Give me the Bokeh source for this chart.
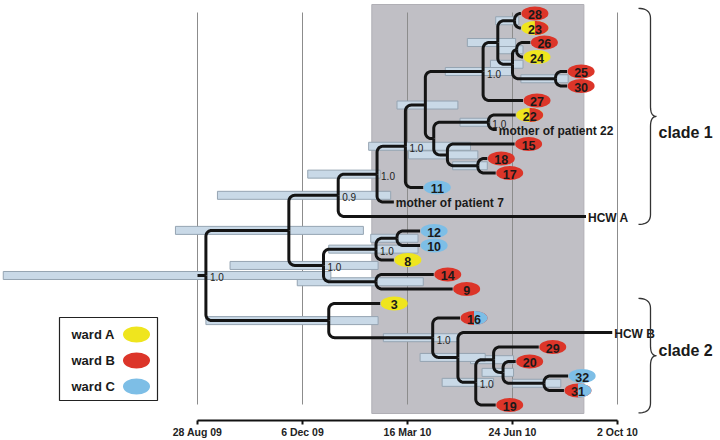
import numpy as np
from bokeh.plotting import figure
from bokeh.models import Range1d, FixedTicker
from bokeh.core.properties import value
from bokeh.embed import file_html
from bokeh.resources import INLINE

# ----------------------------- data -----------------------------
# x values are days after 28 Aug 2009
TICK_DAYS = [0, 100, 200, 300, 400]
TICK_LABELS = ["28 Aug 09", "6 Dec 09", "16 Mar 10", "24 Jun 10", "2 Oct 10"]

# tips, in their top-to-bottom order
TIP_NAMES = ["28", "23", "26", "24", "25", "30", "27", "22",
             "mother of patient 22", "15", "18", "17", "11",
             "mother of patient 7", "HCW A", "12", "10", "8", "14", "9",
             "3", "16", "HCW B", "29", "20", "32", "31", "19"]
TIP_DAYS = [308, 308, 317, 310, 352, 352, 310, 303,
            285, 302, 276, 284, 215,
            187, 370, 212, 212, 187, 225, 243,
            174, 250, 395, 325, 303, 353, 349, 284]
# ward of each patient: left half / right half of the oval ("" = no oval)
TIP_WARDS = ["B", "AB", "B", "A", "B", "B", "B", "AB",
             "", "B", "B", "B", "C",
             "", "", "C", "C", "A", "B", "B",
             "A", "BC", "", "B", "B", "C", "BC", "B"]

# internal nodes (children listed before parents)
NODE_NAMES = ["Z", "X", "Y", "W", "A", "B", "E", "V", "U", "D", "C", "T", "F",
              "P", "S", "Q", "R", "O", "N", "L", "K", "J", "I", "H", "G", "M",
              "root"]
NODE_CHILDREN = [["28", "23"], ["26", "24"], ["25", "30"], ["X", "Y"],
                 ["Z", "W"], ["A", "27"], ["22", "mother of patient 22"],
                 ["18", "17"], ["15", "V"], ["E", "U"], ["B", "D"],
                 ["C", "11"], ["T", "mother of patient 7"], ["F", "HCW A"],
                 ["12", "10"], ["S", "8"], ["14", "9"], ["Q", "R"],
                 ["P", "O"], ["32", "31"], ["20", "L"], ["29", "K"],
                 ["J", "19"], ["HCW B", "I"], ["16", "H"], ["3", "G"],
                 ["N", "M"]]
NODE_DAYS = [302, 304, 341, 300, 286, 272, 277, 267, 238, 225, 217, 198, 171,
             134, 190, 170, 170, 120, 87, 330, 291, 282, 265, 248, 224, 125, 8]
NODE_POSTERIOR = [None, None, None, None, None, 1.0, 1.0, None, None, None,
                  None, 1.0, 1.0, 0.9, None, 1.0, None, 1.0, None, None, None,
                  None, 1.0, None, 1.0, None, 1.0]
HPD_LOW = [284, 287, 308, 279, 257, 236, 250, 243, 201, None, 190, 163, 105,
           19, 165, 125, 95, 31, -21, 300, 271, 260, 233, 212, 177, 8, -185]
HPD_HIGH = [306, 310, 353, 310, 303, 300, 279, 276, 267, None, 248, 260, 174,
            184, 210, 210, 215, 172, 158, 346, 301, 301, 282, 274, 248, 172, 127]
ROOT_STEM_START = 0

OUTBREAK_WINDOW = [166, 368]                 # shaded period
CLADE_NAMES = ["clade 1", "clade 2"]
CLADE_FIRST = ["28", "3"]
CLADE_LAST = ["HCW A", "19"]

LEGEND_WARDS = ["A", "B", "C"]
WARD_COLORS = {"A": "#efe51e", "B": "#dc3529", "C": "#7dbee6"}

# ----------------------------- layout -----------------------------
PX_PER_DAY = 1.05
PX_PER_ROW = 14.5
X0_PAGE = 197.0      # page x of day 0
Y0_PAGE = 13.0       # page y of first tip row
MARGIN = 0
FRAME_W, FRAME_H = 720, 420
FONT = "Liberation Sans"


def px2x(px):
    return (px - X0_PAGE) / PX_PER_DAY


def py2y(py):
    return (py - Y0_PAGE) / PX_PER_ROW


p = figure(frame_width=FRAME_W, frame_height=FRAME_H,
           x_range=Range1d(px2x(MARGIN), px2x(MARGIN + FRAME_W)),
           y_range=Range1d(py2y(MARGIN + FRAME_H), py2y(MARGIN)),
           output_backend="svg", toolbar_location=None,
           y_axis_location=None, min_border=0, min_border_left=0,
           min_border_right=0, min_border_top=0,
           outline_line_color=None, background_fill_color="white")
p.grid.visible = False

ax = p.xaxis[0]
ax.ticker = FixedTicker(ticks=TICK_DAYS)
ax.major_label_overrides = {d: l for d, l in zip(TICK_DAYS, TICK_LABELS)}
ax.bounds = (TICK_DAYS[0], TICK_DAYS[-1])
ax.minor_tick_line_color = None
ax.major_tick_in = 0
ax.major_tick_out = 4
ax.axis_line_width = 2
ax.major_tick_line_width = 2
ax.axis_line_color = "#111111"
ax.major_tick_line_color = "#111111"
ax.major_label_text_font = FONT
ax.major_label_text_font_style = "bold"
ax.major_label_text_font_size = "10.5px"
ax.major_label_text_color = "#222222"
ax.major_label_standoff = 1

# ------------------------ tree positions ------------------------
pos = {}
for i, (n, d) in enumerate(zip(TIP_NAMES, TIP_DAYS)):
    pos[n] = (d, float(i))
for n, ch, d in zip(NODE_NAMES, NODE_CHILDREN, NODE_DAYS):
    ys = [pos[c][1] for c in ch]
    pos[n] = (d, (ys[0] + ys[-1]) / 2.0)

# shaded outbreak window
p.quad(left=[OUTBREAK_WINDOW[0]], right=[OUTBREAK_WINDOW[1]],
       top=[py2y(4)], bottom=[py2y(413)],
       fill_color="#c0bfc5", line_color="#b0afb5", line_width=1)

# date grid lines
p.segment(x0=TICK_DAYS, x1=TICK_DAYS, y0=[py2y(12)] * len(TICK_DAYS),
          y1=[py2y(404)] * len(TICK_DAYS), line_color="#8c8c8c", line_width=1)

# HPD bars
bar_y, bar_l, bar_r = [], [], []
for n, lo, hi in zip(NODE_NAMES, HPD_LOW, HPD_HIGH):
    if lo is None:
        continue
    bar_y.append(pos[n][1])
    bar_l.append(lo)
    bar_r.append(hi)
p.hbar(y=bar_y, left=bar_l, right=bar_r, height=8 / PX_PER_ROW,
       fill_color="#c9d9e7", line_color="#95a4b2", line_width=1)

# branches with rounded elbows
R = 6.0


def branch(nx, ny, cx, cy):
    dxp = (cx - nx) * PX_PER_DAY
    dyp = (cy - ny) * PX_PER_ROW
    if abs(dyp) < 0.5:
        return [nx, cx], [ny, cy]
    s = 1.0 if dyp > 0 else -1.0
    r = min(R, abs(dyp), max(dxp, 0.0))
    xs_p = [0.0, 0.0]
    ys_p = [0.0, dyp - s * r]
    for t in np.linspace(0, 1, 9)[1:]:
        phi = np.pi - s * (np.pi / 2) * t
        xs_p.append(r + r * np.cos(phi))
        ys_p.append((dyp - s * r) + r * np.sin(phi))
    xs_p.append(dxp)
    ys_p.append(dyp)
    return ([nx + v / PX_PER_DAY for v in xs_p],
            [ny + v / PX_PER_ROW for v in ys_p])


xs_all, ys_all = [], []
for n, ch in zip(NODE_NAMES, NODE_CHILDREN):
    nx, ny = pos[n]
    for c in ch:
        bx, by = branch(nx, ny, *pos[c])
        xs_all.append(bx)
        ys_all.append(by)
rx, ry = pos["root"]
xs_all.append([ROOT_STEM_START, rx])
ys_all.append([ry, ry])
p.multi_line(xs=xs_all, ys=ys_all, line_color="#141414", line_width=3,
             line_join="round", line_cap="butt")

# posterior labels
lab_x, lab_y, lab_t = [], [], []
for n, pp in zip(NODE_NAMES, NODE_POSTERIOR):
    if pp is None:
        continue
    lab_x.append(pos[n][0])
    lab_y.append(pos[n][1])
    lab_t.append(f"{pp:.1f}")
p.text(x=lab_x, y=lab_y, text=lab_t, x_offset=4, y_offset=2,
       text_font=value(FONT), text_font_size="10px", text_color="#222222",
       text_align="left", text_baseline="middle")

# tip ovals and labels
OVAL_W, OVAL_H = 27, 14
oval_off = 14 / PX_PER_DAY
ox, oy, oc, ot = [], [], [], []
hx, hy, hc = [], [], []
tx, ty, tt = [], [], []
for i, (n, d, w) in enumerate(zip(TIP_NAMES, TIP_DAYS, TIP_WARDS)):
    if w == "":
        tx.append(d)
        ty.append(float(i))
        tt.append(n)
        continue
    cx = d + oval_off
    ox.append(cx)
    oy.append(float(i))
    oc.append(WARD_COLORS[w[0]])
    ot.append(n)
    if len(w) > 1:
        t = np.linspace(-np.pi / 2, np.pi / 2, 31)
        hx.append(list(cx + (OVAL_W / 2) * np.cos(t) / PX_PER_DAY))
        hy.append(list(i + (OVAL_H / 2) * np.sin(t) / PX_PER_ROW))
        hc.append(WARD_COLORS[w[1]])

p.ellipse(x=ox, y=oy, width=OVAL_W, height=OVAL_H, width_units="screen",
          height_units="screen", fill_color=oc, line_color=None)
p.patches(xs=hx, ys=hy, fill_color=hc, line_color=None)
p.text(x=ox, y=oy, text=ot, text_font=value(FONT), text_font_style="bold",
       text_font_size="12.5px", text_color="#1a1a1a", text_align="center",
       text_baseline="middle", y_offset=1)
p.text(x=tx, y=ty, text=tt, x_offset=2, text_font=value(FONT),
       text_font_style="bold", text_font_size="12px", text_color="#1a1a1a",
       text_align="left", text_baseline="middle", y_offset=1)

# clade braces


def brace(y0p, y1p, xl=638.0, xb=650.0, xt=656.0, k=10.0):
    mid = (y0p + y1p) / 2.0
    pts_x, pts_y = [], []

    def quad_bez(p0, c, p2):
        for t in np.linspace(0, 1, 12):
            pts_x.append((1 - t) ** 2 * p0[0] + 2 * (1 - t) * t * c[0] + t ** 2 * p2[0])
            pts_y.append((1 - t) ** 2 * p0[1] + 2 * (1 - t) * t * c[1] + t ** 2 * p2[1])

    quad_bez((xl, y0p), (xb, y0p), (xb, y0p + k))
    quad_bez((xb, mid - k), (xb, mid), (xt, mid))
    quad_bez((xt, mid), (xb, mid), (xb, mid + k))
    quad_bez((xb, y1p - k), (xb, y1p), (xl, y1p))
    return [px2x(v) for v in pts_x], [py2y(v) for v in pts_y]


bxs, bys, cl_x, cl_y = [], [], [], []
for name, first, last in zip(CLADE_NAMES, CLADE_FIRST, CLADE_LAST):
    top_p = Y0_PAGE + (pos[first][1] - 0.35) * PX_PER_ROW
    bot_p = Y0_PAGE + (pos[last][1] + 0.55) * PX_PER_ROW
    bx, by = brace(top_p, bot_p)
    bxs.append(bx)
    bys.append(by)
    cl_x.append(px2x(658))
    cl_y.append(py2y((top_p + bot_p) / 2.0))
p.multi_line(xs=bxs, ys=bys, line_color="#333333", line_width=1.3)
p.text(x=cl_x, y=cl_y, text=CLADE_NAMES, text_font=value(FONT),
       text_font_style="bold", text_font_size="16px", text_color="#1a1a1a",
       text_align="left", text_baseline="middle", y_offset=[16, -5])

# legend
p.quad(left=[px2x(59)], right=[px2x(157)], top=[py2y(317)],
       bottom=[py2y(400)], fill_color="white", line_color="#222222",
       line_width=1.2)
leg_y = [py2y(334), py2y(360), py2y(386)]
p.ellipse(x=[px2x(136)] * 3, y=leg_y, width=27, height=16,
          width_units="screen", height_units="screen",
          fill_color=[WARD_COLORS[w] for w in LEGEND_WARDS], line_color=None)
p.text(x=[px2x(71)] * 3, y=leg_y, text=["ward " + w for w in LEGEND_WARDS],
       text_font=value(FONT), text_font_style="bold", text_font_size="13px",
       text_color="#1a1a1a", text_align="left", text_baseline="middle")

open("out.html", "w").write(file_html(p, INLINE))
